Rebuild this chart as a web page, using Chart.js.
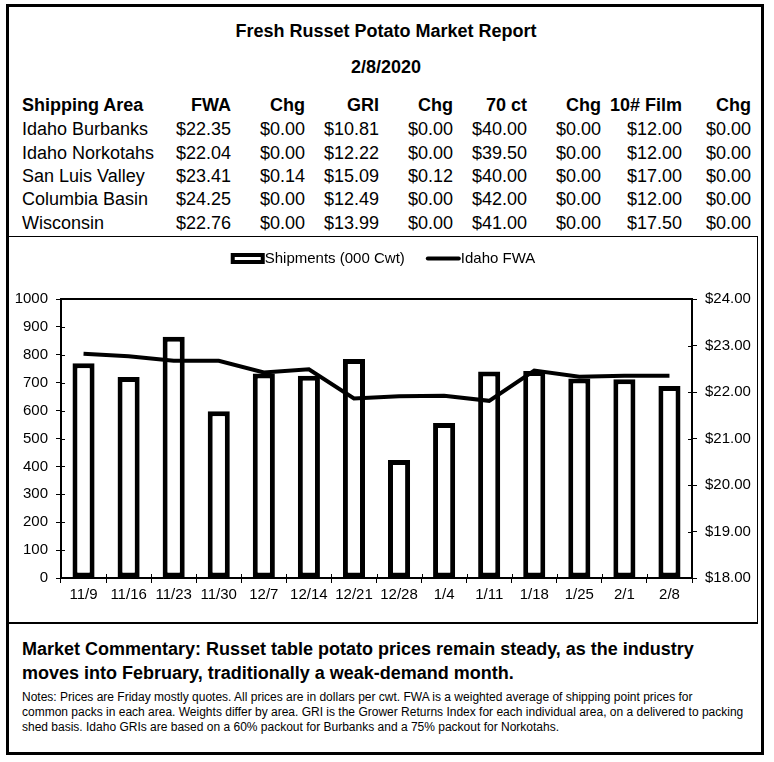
<!DOCTYPE html>
<html>
<head>
<meta charset="utf-8">
<script src="https://cdn.jsdelivr.net/npm/chart.js@4.4.1/dist/chart.umd.min.js"></script>
<style>
  html, body { margin: 0; padding: 0; background: #fff; }
  body { width: 774px; height: 762px; position: relative; overflow: hidden;
         font-family: "Liberation Sans", Arial, sans-serif; color: #000; }
  #outer { position: absolute; left: 6px; top: 4px; width: 758px; height: 751px;
           box-sizing: border-box; border: 3px solid #000; }
  .title { position: absolute; left: 6px; width: 760px; text-align: center;
           font-weight: bold; font-size: 18px; line-height: 24px; }
  .cell { position: absolute; font-size: 18px; line-height: 24px; white-space: nowrap; }
  .hdr { font-weight: bold; }
  #chartbox { position: absolute; left: 9px; top: 236px; width: 749px; height: 388px;
              box-sizing: border-box; border-top: 1px solid #000; border-right: 1px solid #000;
              border-bottom: 2px solid #000; }
  #c { position: absolute; left: 9px; top: 237px; }
  #comment { position: absolute; left: 22px; top: 637px; font-weight: bold; font-size: 18px;
             line-height: 24px; white-space: nowrap; }
  #notes { position: absolute; left: 22px; top: 690px; font-size: 12px; line-height: 15px;
           white-space: nowrap; }
</style>
</head>
<body>
<div id="outer"></div>
<div class="title" style="top:19px">Fresh Russet Potato Market Report</div>
<div class="title" style="top:55px">2/8/2020</div>
<div id="table"></div>
<div id="chartbox"></div>
<canvas id="c" width="748" height="386"></canvas>
<div id="comment">Market Commentary: Russet table potato prices remain steady, as the industry<br>moves into February, traditionally a weak-demand month.</div>
<div id="notes">Notes: Prices are Friday mostly quotes. All prices are in dollars per cwt. FWA is a weighted average of shipping point prices for<br>common packs in each area. Weights differ by area. GRI is the Grower Returns Index for each individual area, on a delivered to packing<br>shed basis. Idaho GRIs are based on a 60% packout for Burbanks and a 75% packout for Norkotahs.</div>
<script>
// ---- Table data ----
const tableHeaders = ['Shipping Area', 'FWA', 'Chg', 'GRI', 'Chg', '70 ct', 'Chg', '10# Film', 'Chg'];
const shippingAreas = ['Idaho Burbanks', 'Idaho Norkotahs', 'San Luis Valley', 'Columbia Basin', 'Wisconsin'];
const fwa      = ['$22.35', '$22.04', '$23.41', '$24.25', '$22.76'];
const fwaChg   = ['$0.00', '$0.00', '$0.14', '$0.00', '$0.00'];
const gri      = ['$10.81', '$12.22', '$15.09', '$12.49', '$13.99'];
const griChg   = ['$0.00', '$0.00', '$0.12', '$0.00', '$0.00'];
const ct70     = ['$40.00', '$39.50', '$40.00', '$42.00', '$41.00'];
const ct70Chg  = ['$0.00', '$0.00', '$0.00', '$0.00', '$0.00'];
const film10   = ['$12.00', '$12.00', '$17.00', '$12.00', '$17.50'];
const film10Chg= ['$0.00', '$0.00', '$0.00', '$0.00', '$0.00'];

// ---- Chart data ----
const categories = ['11/9', '11/16', '11/23', '11/30', '12/7', '12/14', '12/21', '12/28', '1/4', '1/11', '1/18', '1/25', '2/1', '2/8'];
const shipments  = [770, 720, 865, 598, 733, 725, 785, 423, 556, 740, 742, 715, 712, 688];
const idahoFWA   = [22.82, 22.77, 22.67, 22.67, 22.42, 22.49, 21.86, 21.91, 21.92, 21.81, 22.46, 22.33, 22.35, 22.35];
const seriesLabels = ['Shipments (000 Cwt)', 'Idaho FWA'];

// ---- Build table ----
(function () {
  const colRight = [null, 231, 305, 379, 453, 527, 601, 682, 751];
  const rowTop = [93, 117, 141, 164, 187, 211];
  const cols = [shippingAreas, fwa, fwaChg, gri, griChg, ct70, ct70Chg, film10, film10Chg];
  const t = document.getElementById('table');
  function add(text, row, col, bold) {
    const d = document.createElement('div');
    d.className = 'cell' + (bold ? ' hdr' : '');
    d.textContent = text;
    d.style.top = rowTop[row] + 'px';
    if (col === 0) { d.style.left = '22px'; }
    else { d.style.right = (774 - colRight[col]) + 'px'; }
    t.appendChild(d);
  }
  tableHeaders.forEach((h, c) => add(h, 0, c, true));
  for (let r = 0; r < shippingAreas.length; r++) {
    cols.forEach((arr, c) => add(arr[r], r + 1, c, false));
  }
})();

// ---- Chart ----
const FONT = '"Liberation Sans", Arial, sans-serif';

const customLegend = {
  id: 'customLegend',
  afterDraw(chart) {
    const ctx = chart.ctx;
    ctx.save();
    ctx.font = '15px ' + FONT;
    ctx.textBaseline = 'middle';
    ctx.fillStyle = '#000';
    const boxW = 34, boxH = 11, gap = 21, y = 21.5;
    const w0 = ctx.measureText(seriesLabels[0]).width;
    const w1 = ctx.measureText(seriesLabels[1]).width;
    const total = boxW + w0 + gap + 35 + w1;
    let x = chart.width / 2 - total / 2;
    ctx.lineWidth = 4;
    ctx.strokeStyle = '#000';
    ctx.fillStyle = '#fff';
    ctx.fillRect(x, y - boxH / 2, boxW, boxH);
    ctx.strokeRect(x + 2, y - boxH / 2 + 2, boxW - 4, boxH - 4);
    ctx.fillStyle = '#000';
    x += boxW;
    ctx.fillText(seriesLabels[0], x, y + 0.5);
    x += w0 + gap;
    ctx.beginPath();
    ctx.lineWidth = 4;
    ctx.lineCap = 'round';
    ctx.moveTo(x + 2, y);
    ctx.lineTo(x + 33, y);
    ctx.stroke();
    x += 35;
    ctx.fillText(seriesLabels[1], x, y + 0.5);
    ctx.restore();
  }
};

// top frame line + inner half of the crossing tick marks
const frameAndTicks = {
  id: 'frameAndTicks',
  afterDraw(chart) {
    const a = chart.chartArea, ctx = chart.ctx;
    ctx.save();
    ctx.strokeStyle = '#000';
    ctx.lineWidth = 2;
    ctx.beginPath();
    ctx.moveTo(a.left - 1, a.top);
    ctx.lineTo(a.right + 1, a.top);
    ctx.stroke();
    ctx.lineWidth = 1;
    ctx.beginPath();
    const y = chart.scales.y, y1 = chart.scales.y1, x = chart.scales.x;
    y.ticks.forEach(t => {
      const p = Math.round(y.getPixelForValue(t.value)) + 0.5;
      ctx.moveTo(a.left, p); ctx.lineTo(a.left + 4, p);
    });
    y1.ticks.forEach(t => {
      const p = Math.round(y1.getPixelForValue(t.value)) + 0.5;
      ctx.moveTo(a.right - 4, p); ctx.lineTo(a.right, p);
    });
    const half = (x.getPixelForValue(1) - x.getPixelForValue(0)) / 2;
    for (let i = 0; i <= categories.length; i++) {
      const p = Math.round(x.getPixelForValue(Math.min(i, categories.length - 1)) + (i < categories.length ? -half : half)) + 0.5;
      ctx.moveTo(p, a.bottom - 4); ctx.lineTo(p, a.bottom);
    }
    ctx.stroke();
    ctx.restore();
  }
};

new Chart(document.getElementById('c'), {
  data: {
    labels: categories,
    datasets: [
      {
        type: 'bar',
        label: seriesLabels[0],
        data: shipments,
        yAxisID: 'y',
        backgroundColor: '#ffffff',
        borderColor: '#000000',
        borderWidth: 5,
        borderSkipped: false,
        barPercentage: 0.49,
        categoryPercentage: 1,
        order: 2
      },
      {
        type: 'line',
        label: seriesLabels[1],
        data: idahoFWA,
        yAxisID: 'y1',
        borderColor: '#000000',
        borderWidth: 4,
        pointRadius: 0,
        tension: 0,
        fill: false,
        order: 1
      }
    ]
  },
  options: {
    responsive: false,
    animation: false,
    layout: { padding: { top: 62, left: 0, right: 0, bottom: 0 } },
    plugins: { legend: { display: false }, tooltip: { enabled: false } },
    scales: {
      x: {
        offset: true,
        grid: { offset: true, drawOnChartArea: false, tickLength: 5, color: '#000', lineWidth: 1 },
        border: { color: '#000', width: 2 },
        ticks: { color: '#000', font: { family: FONT, size: 15 }, padding: 3, maxRotation: 0, autoSkip: false },
        afterFit(s) { s.height = 45; }
      },
      y: {
        position: 'left',
        min: 0, max: 1000,
        grid: { drawOnChartArea: false, tickLength: 5, color: '#000', lineWidth: 1 },
        border: { color: '#000', width: 2 },
        ticks: { stepSize: 100, color: '#000', font: { family: FONT, size: 15 }, padding: 8,
                 callback: v => String(v) },
        afterFit(s) { s.width = 52; }
      },
      y1: {
        position: 'right',
        min: 18, max: 24,
        grid: { drawOnChartArea: false, tickLength: 5, color: '#000', lineWidth: 1 },
        border: { color: '#000', width: 2 },
        ticks: { stepSize: 1, color: '#000', font: { family: FONT, size: 15 }, padding: 8,
                 callback: v => '$' + Number(v).toFixed(2) },
        afterFit(s) { s.width = 65; }
      }
    }
  },
  plugins: [customLegend, frameAndTicks]
});
</script>
</body>
</html>
